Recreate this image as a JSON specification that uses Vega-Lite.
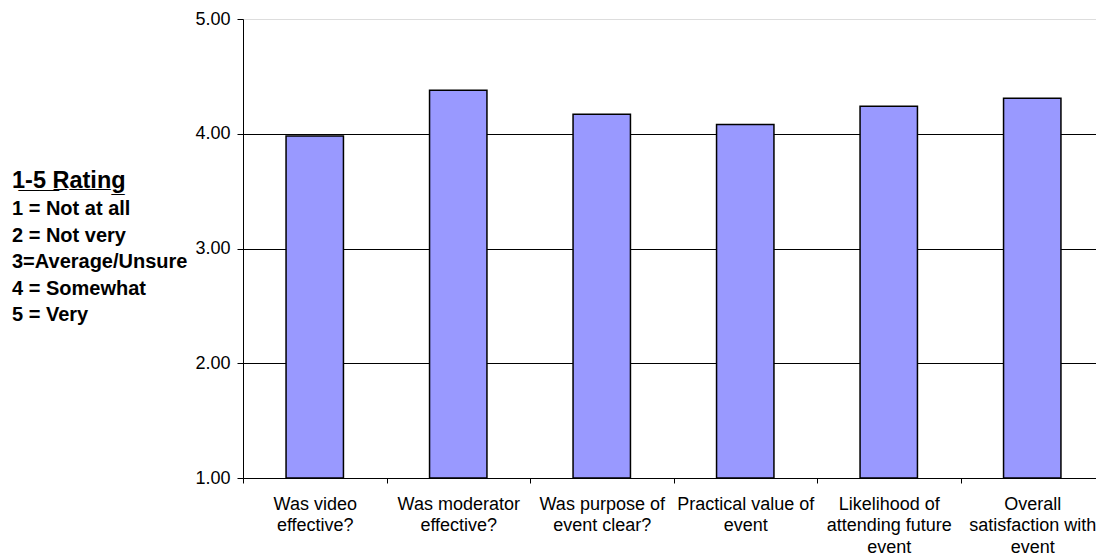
{
  "$schema": "https://vega.github.io/schema/vega-lite/v6.json",
  "autosize": {"type": "none"},
  "width": 853,
  "height": 459,
  "padding": {"left": 243, "top": 19, "right": 0, "bottom": 81},
  "background": "white",
  "config": {
    "view": {"stroke": null},
    "font": "Liberation Sans"
  },
  "title": {
    "text": "1\u0332-\u03325\u0332 \u0332R\u0332a\u0332t\u0332i\u0332n\u0332g\u0332",
    "subtitle": ["1 = Not at all", "2 = Not very", "3=Average/Unsure", "4 = Somewhat", "5 = Very"],
    "anchor": "start",
    "frame": "group",
    "orient": "top",
    "baseline": "alphabetic",
    "dx": -231,
    "dy": 338,
    "font": "Liberation Sans",
    "fontSize": 23.5,
    "fontWeight": "bold",
    "color": "black",
    "subtitleFont": "Liberation Sans",
    "subtitleFontSize": 20,
    "subtitleFontWeight": "bold",
    "subtitleColor": "black",
    "subtitleLineHeight": 26.5,
    "subtitlePadding": 4
  },
  "data": {
    "values": [
      {"question": "Was video|effective?", "rating": 3.98},
      {"question": "Was moderator|effective?", "rating": 4.38},
      {"question": "Was purpose of|event clear?", "rating": 4.17},
      {"question": "Practical value of|event", "rating": 4.08},
      {"question": "Likelihood of|attending future|event", "rating": 4.24},
      {"question": "Overall|satisfaction with|event", "rating": 4.31}
    ]
  },
  "mark": {"type": "bar", "fill": "#9999FF", "stroke": "black", "strokeWidth": 1.5, "width": {"band": 0.4}},
  "encoding": {
    "x": {
      "field": "question",
      "type": "nominal",
      "sort": null,
      "scale": {"range": [0, 861], "paddingInner": 0, "paddingOuter": 0},
      "axis": {
        "title": null,
        "labelAngle": 0,
        "labelExpr": "datum.value ? split(datum.value, '|') : ''",
        "labelFont": "Liberation Sans",
        "labelFontSize": 18,
        "labelColor": "black",
        "labelLineHeight": 21.7,
        "labelPadding": 12,
        "labelBaseline": "top",
        "tickBand": "extent",
        "tickColor": "black",
        "tickSize": 5,
        "domainColor": "black",
        "domainWidth": 1,
        "grid": false
      }
    },
    "y": {
      "field": "rating",
      "type": "quantitative",
      "scale": {"domain": [1, 5], "zero": false, "nice": false},
      "axis": {
        "title": null,
        "values": [1, 2, 3, 4, 5],
        "format": ".2f",
        "labelFont": "Liberation Sans",
        "labelFontSize": 18,
        "labelColor": "black",
        "labelPadding": 7,
        "tickColor": "black",
        "tickSize": 6,
        "domainColor": "black",
        "grid": true,
        "gridColor": {"condition": {"test": "datum.value === 5", "value": "#dddddd"}, "value": "black"},
        "gridWidth": 1,
        "gridOpacity": 1
      }
    },
    "y2": {"datum": 1}
  }
}
